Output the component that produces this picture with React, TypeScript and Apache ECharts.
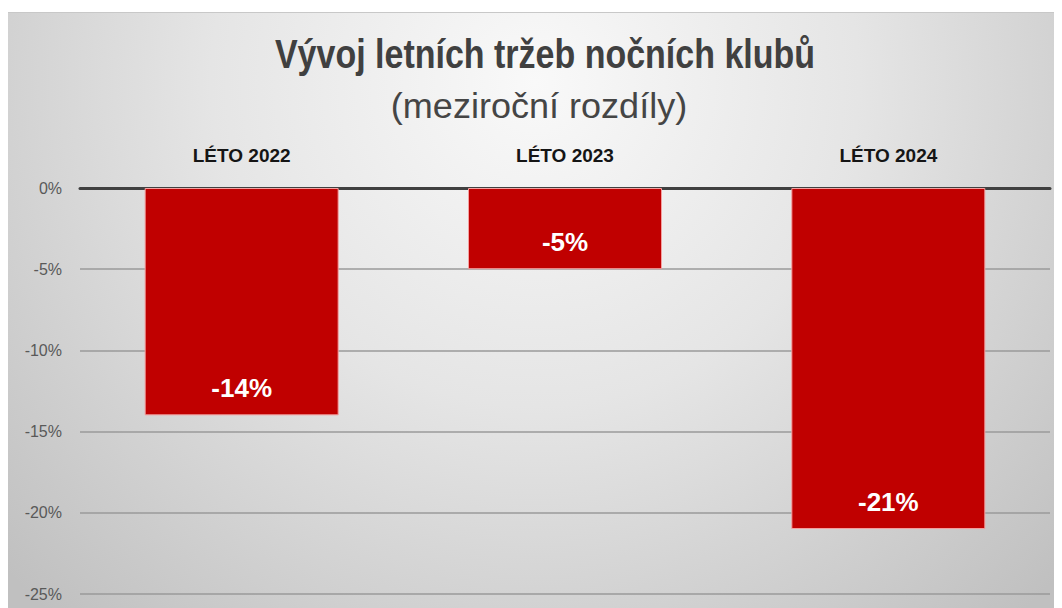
import React, { useEffect, useRef } from "react";
import * as echarts from "echarts";

const categories = ["LÉTO 2022", "LÉTO 2023", "LÉTO 2024"];
const values = [-14, -5, -21];
const yTicks = [0, -5, -10, -15, -20, -25];

const titleText = "Vývoj letních tržeb nočních klubů";
const subtitleText = "(meziroční rozdíly)";

const SANS = "'Liberation Sans', Arial, sans-serif";

export default function App() {
  const ref = useRef<HTMLDivElement>(null);
  useEffect(() => {
    if (!ref.current) return;
    const chart = echarts.init(ref.current, null, { renderer: "svg" });
    chart.setOption({
      animation: false,
      graphic: [
        {
          type: "rect",
          z: -10,
          silent: true,
          shape: { x: 0, y: 0, width: 1054, height: 596 },
          style: {
            fill: new echarts.graphic.RadialGradient(527, 70, 720, [
              { offset: 0, color: "#f9f9f9" },
              { offset: 0.45, color: "#e5e5e5" },
              { offset: 1, color: "#c0c0c0" },
            ], true),
          },
        },
        {
          type: "line",
          z: -9,
          silent: true,
          shape: { x1: 0, y1: 0.5, x2: 1054, y2: 0.5 },
          style: { stroke: "#c8c8c8", lineWidth: 1 },
        },
        {
          type: "text",
          z: 5,
          x: 537,
          y: 42,
          scaleX: 0.85,
          silent: true,
          style: {
            text: titleText,
            font: `bold 40px ${SANS}`,
            fill: "#404040",
            align: "center",
            verticalAlign: "middle",
          },
        },
        {
          type: "text",
          z: 5,
          x: 531,
          y: 94,
          scaleX: 1.03,
          silent: true,
          style: {
            text: subtitleText,
            font: `normal 35px ${SANS}`,
            fill: "#454545",
            align: "center",
            verticalAlign: "middle",
          },
        },
      ],
      grid: { left: 72, right: 12, top: 176, bottom: 14, containLabel: false },
      xAxis: {
        type: "category",
        position: "top",
        data: categories,
        axisLine: { show: true, lineStyle: { color: "#404040", width: 3 } },
        axisTick: { show: false },
        axisLabel: {
          margin: 23,
          fontFamily: SANS,
          fontSize: 19,
          fontWeight: "bold",
          color: "#151515",
        },
      },
      yAxis: {
        type: "value",
        min: -25,
        max: 0,
        interval: 5,
        axisLine: { show: false },
        axisTick: { show: false },
        axisLabel: {
          margin: 18,
          fontFamily: SANS,
          fontSize: 16,
          color: "#595959",
          formatter: (v: number) => (yTicks.includes(v) ? `${v}%` : ""),
        },
        splitLine: { show: true, lineStyle: { color: "#9a9a9a", width: 1.5 } },
      },
      series: [
        {
          type: "bar",
          data: values,
          barWidth: "60%",
          itemStyle: { color: "#C00000", borderColor: "#f4a0a0", borderWidth: 1 },
          label: {
            show: true,
            position: "insideBottom",
            distance: 14,
            formatter: (p: any) => `${p.value}%`,
            fontFamily: SANS,
            fontSize: 26,
            fontWeight: "bold",
            color: "#ffffff",
          },
        },
      ],
    });
    return () => chart.dispose();
  }, []);
  return <div ref={ref} style={{ width: 1054, height: 596, marginTop: 4 }} />;
}
